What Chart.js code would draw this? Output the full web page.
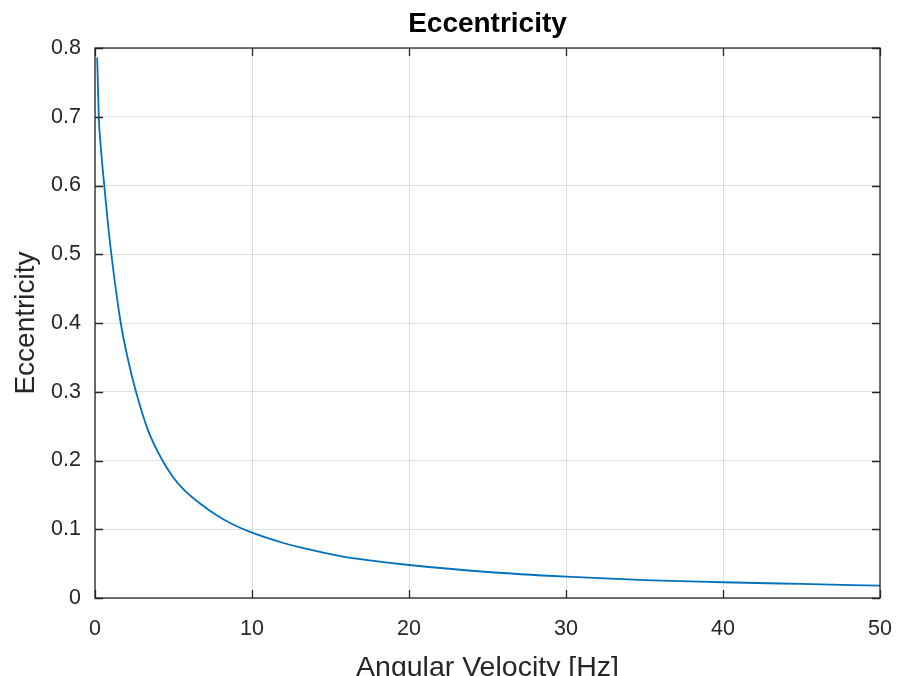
<!DOCTYPE html>
<html>
<head>
<meta charset="utf-8">
<script src="https://cdn.jsdelivr.net/npm/chart.js@4.4.1/dist/chart.umd.min.js"></script>
<style>
  html, body { margin: 0; padding: 0; background: #ffffff; }
  #wrap { width: 897px; height: 676px; }
</style>
</head>
<body>
<div id="wrap"><canvas id="c" width="897" height="676"></canvas></div>
<script>
// Data
const angularVelocity = [0.14, 0.24, 0.38, 0.59, 0.8, 1.04, 1.64, 2.05, 2.61, 3.41, 4.3, 5, 5.64, 6.71, 7.77, 8.83, 10, 12, 13.08, 15.62, 17.75, 20, 25, 30, 35, 40, 45, 50];
const eccentricity    = [0.786, 0.70, 0.653, 0.60, 0.55, 0.50, 0.40, 0.352, 0.30, 0.242, 0.20, 0.175, 0.158, 0.137, 0.120, 0.1065, 0.095, 0.080, 0.0735, 0.061, 0.054, 0.048, 0.0378, 0.031, 0.026, 0.0229, 0.0204, 0.018];
const xTicks = [0, 10, 20, 30, 40, 50];
const yTicks = [0, 0.1, 0.2, 0.3, 0.4, 0.5, 0.6, 0.7, 0.8];
const chartTitle = 'Eccentricity';
const xLabel = 'Angular Velocity [Hz]';
const yLabel = 'Eccentricity';

const FONT = "'Liberation Sans', Arial, Helvetica, sans-serif";
const TEXT = '#262626';

const points = angularVelocity.map((x, i) => ({ x: x, y: eccentricity[i] }));

// Draw box frame and inward tick marks (MATLAB style) using the chart's scales
const framePlugin = {
  id: 'frame',
  afterDatasetsDraw(chart) {
    const { ctx, chartArea: a, scales } = chart;
    const L = 8;
    ctx.save();
    ctx.strokeStyle = TEXT;
    ctx.lineWidth = 1.3;
    ctx.beginPath();
    xTicks.forEach(v => {
      const px = Math.round(scales.x.getPixelForValue(v)) + 0.5;
      ctx.moveTo(px, a.bottom); ctx.lineTo(px, a.bottom - L);
      ctx.moveTo(px, a.top); ctx.lineTo(px, a.top + L);
    });
    yTicks.forEach(v => {
      const py = Math.round(scales.y.getPixelForValue(v)) + 0.5;
      ctx.moveTo(a.left, py); ctx.lineTo(a.left + L, py);
      ctx.moveTo(a.right, py); ctx.lineTo(a.right - L, py);
    });
    ctx.stroke();
    ctx.strokeRect(a.left, a.top, a.right - a.left, a.bottom - a.top);
    ctx.restore();
  }
};

new Chart(document.getElementById('c'), {
  type: 'line',
  data: {
    datasets: [{
      data: points,
      borderColor: '#0072BD',
      borderWidth: 1.8,
      pointRadius: 0,
      fill: false,
      cubicInterpolationMode: 'monotone'
    }]
  },
  options: {
    responsive: false,
    animation: false,
    layout: { padding: 0 },
    plugins: {
      legend: { display: false },
      tooltip: { enabled: false },
      title: {
        display: true,
        fullSize: false,
        text: chartTitle,
        color: '#000000',
        font: { family: FONT, size: 28, weight: 'bold', lineHeight: 1.2 },
        padding: { top: 7, bottom: 7.4 }
      }
    },
    scales: {
      x: {
        type: 'linear',
        min: 0, max: 50,
        afterBuildTicks(scale) { scale.ticks = xTicks.map(v => ({ value: v })); },
        afterFit(scale) { scale.height = 78; scale.paddingRight = 17; },
        grid: { color: 'rgba(38,38,38,0.15)', lineWidth: 1, drawTicks: false },
        border: { display: false },
        ticks: {
          color: TEXT,
          font: { family: FONT, size: 21.5, lineHeight: 1.2 },
          padding: 18,
          maxRotation: 0,
          callback: v => String(v)
        },
        title: {
          display: true,
          text: xLabel,
          color: TEXT,
          font: { family: FONT, size: 28.5, lineHeight: 1.0 },
          padding: { top: 0, bottom: -6 }
        }
      },
      y: {
        type: 'linear',
        min: 0, max: 0.8,
        afterBuildTicks(scale) { scale.ticks = yTicks.map(v => ({ value: v })); },
        afterFit(scale) { scale.width = 95; },
        grid: { color: 'rgba(38,38,38,0.15)', lineWidth: 1, drawTicks: false },
        border: { display: false },
        ticks: {
          color: TEXT,
          font: { family: FONT, size: 21.5, lineHeight: 1.2 },
          padding: 14,
          callback: v => (v === 0 ? '0' : v.toFixed(1))
        },
        title: {
          display: true,
          text: yLabel,
          color: TEXT,
          font: { family: FONT, size: 28, lineHeight: 1.2 },
          padding: { top: 9, bottom: 0 }
        }
      }
    }
  },
  plugins: [framePlugin]
});
</script>
</body>
</html>
